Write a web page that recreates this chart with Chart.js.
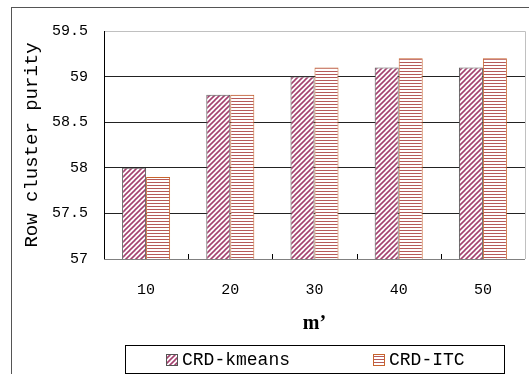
<!DOCTYPE html>
<html>
<head>
<meta charset="utf-8">
<script src="https://cdn.jsdelivr.net/npm/chart.js@4/dist/chart.umd.min.js"></script>
<style>
  html, body { margin: 0; padding: 0; background: #fff; }
  #wrap { position: relative; width: 529px; height: 374px; }
</style>
</head>
<body>
<div id="wrap"><canvas id="c" width="529" height="374"></canvas></div>
<script>
const categories = ['10', '20', '30', '40', '50'];
const crdKmeans = [58.0, 58.8, 59.0, 59.1, 59.1];
const crdITC = [57.9, 58.8, 59.1, 59.2, 59.2];
const yTicks = [57, 57.5, 58, 58.5, 59, 59.5];

function diagPattern() {
  const c = document.createElement('canvas');
  c.width = 5; c.height = 5;
  const g = c.getContext('2d');
  g.fillStyle = '#ffffff'; g.fillRect(0, 0, 5, 5);
  g.strokeStyle = '#a4416f'; g.lineWidth = 1.6;
  for (let k = -5; k <= 10; k += 5) {
    g.beginPath(); g.moveTo(k - 5, 10); g.lineTo(k + 10, -5); g.stroke();
  }
  return g.createPattern(c, 'repeat');
}
function horizPattern() {
  const c = document.createElement('canvas');
  c.width = 4; c.height = 3;
  const g = c.getContext('2d');
  g.fillStyle = '#ffffff'; g.fillRect(0, 0, 4, 3);
  g.fillStyle = '#b65a5a'; g.fillRect(0, 2, 4, 1);
  return g.createPattern(c, 'repeat');
}

const monoFont = "'Liberation Mono', 'DejaVu Sans Mono', monospace";

const framePlugin = {
  id: 'frame',
  beforeDraw(chart) {
    const ctx = chart.ctx;
    ctx.save();
    ctx.strokeStyle = '#555';
    ctx.lineWidth = 1;
    ctx.strokeRect(11.5, 7.5, 700, 500);
    ctx.restore();
  },
  afterDatasetsDraw(chart) {
    const ctx = chart.ctx;
    const a = chart.chartArea;
    const x = chart.scales.x;
    ctx.save();
    ctx.strokeStyle = '#c0c0c0';
    ctx.lineWidth = 1;
    ctx.beginPath();
    ctx.moveTo(a.left, a.top + 0.5); ctx.lineTo(a.right + 0.5, a.top + 0.5);
    ctx.lineTo(a.right + 0.5, a.bottom);
    ctx.stroke();
    ctx.strokeStyle = '#000';
    ctx.beginPath();
    ctx.moveTo(Math.round(a.left) + 0.5, a.top); ctx.lineTo(Math.round(a.left) + 0.5, a.bottom);
    ctx.stroke();
    ctx.strokeStyle = '#808080';
    ctx.beginPath();
    ctx.moveTo(a.left, Math.round(a.bottom) + 0.5); ctx.lineTo(a.right, Math.round(a.bottom) + 0.5);
    ctx.stroke();
    ctx.strokeStyle = '#000';
    for (let i = 1; i < categories.length; i++) {
      const px = Math.round((x.getPixelForValue(i - 1) + x.getPixelForValue(i)) / 2) + 0.5;
      ctx.beginPath(); ctx.moveTo(px, a.bottom); ctx.lineTo(px, a.bottom - 5); ctx.stroke();
    }
    ctx.restore();
  },
  afterDraw(chart) {
    // custom boxed legend below the x axis
    const ctx = chart.ctx;
    const a = chart.chartArea;
    const cx = (a.left + a.right) / 2;
    const w = 379;
    const top = chart.scales.x.bottom;
    const h = 28;
    const left = Math.round(cx - w / 2);
    ctx.save();
    ctx.strokeStyle = '#000';
    ctx.lineWidth = 1;
    ctx.strokeRect(left + 0.5, Math.round(top) + 0.5, w, h);
    const ds = chart.data.datasets;
    const offsets = [41, 248];
    ctx.font = "18px " + monoFont;
    ctx.textBaseline = 'middle';
    ctx.textAlign = 'left';
    const cy = Math.round(top) + 15;
    ds.forEach((d, i) => {
      const bx = left + offsets[i];
      ctx.fillStyle = d.backgroundColor;
      ctx.fillRect(bx, cy - 6, 12, 12);
      ctx.strokeStyle = d.borderColor;
      ctx.strokeRect(bx + 0.5, cy - 6 + 0.5, 11, 11);
      ctx.fillStyle = '#000';
      ctx.fillText(d.label, bx + 16, cy);
    });
    ctx.restore();
  }
};

new Chart(document.getElementById('c'), {
  type: 'bar',
  data: {
    labels: categories,
    datasets: [
      {
        label: 'CRD-kmeans',
        data: crdKmeans,
        backgroundColor: diagPattern(),
        borderColor: '#555555',
        borderWidth: 1,
        borderSkipped: 'bottom',
        categoryPercentage: 0.57,
        barPercentage: 1.0
      },
      {
        label: 'CRD-ITC',
        data: crdITC,
        backgroundColor: horizPattern(),
        borderColor: '#c8642d',
        borderWidth: 1,
        borderSkipped: 'bottom',
        categoryPercentage: 0.57,
        barPercentage: 1.0
      }
    ]
  },
  options: {
    responsive: false,
    animation: false,
    devicePixelRatio: 1,
    layout: { padding: { left: 0, top: 31, right: 4, bottom: 29 } },
    plugins: {
      tooltip: { enabled: false },
      legend: { display: false }
    },
    scales: {
      x: {
        grid: { display: false, drawTicks: false },
        border: { display: false },
        ticks: { color: '#000', font: { family: monoFont, size: 15 }, padding: 22, maxRotation: 0 },
        title: {
          display: true,
          text: 'm’',
          color: '#000',
          font: { family: "'Liberation Serif', 'DejaVu Serif', serif", size: 20, weight: 'bold' },
          padding: { top: 0, bottom: 9 }
        },
        afterFit(scale) { scale.height = 86; }
      },
      y: {
        min: 57,
        max: 59.5,
        afterBuildTicks(scale) { scale.ticks = yTicks.map(v => ({ value: v })); },
        grid: {
          color: '#222',
          lineWidth: 1,
          drawTicks: false
        },
        border: { display: false },
        ticks: {
          color: '#000',
          font: { family: monoFont, size: 15 },
          padding: 16,
          callback: v => String(v)
        },
        title: {
          display: true,
          text: 'Row cluster purity',
          color: '#000',
          font: { family: monoFont, size: 19 },
          padding: { top: 21, bottom: 0 }
        },
        afterFit(scale) { scale.width = 104; }
      }
    }
  },
  plugins: [framePlugin]
});
</script>
</body>
</html>
